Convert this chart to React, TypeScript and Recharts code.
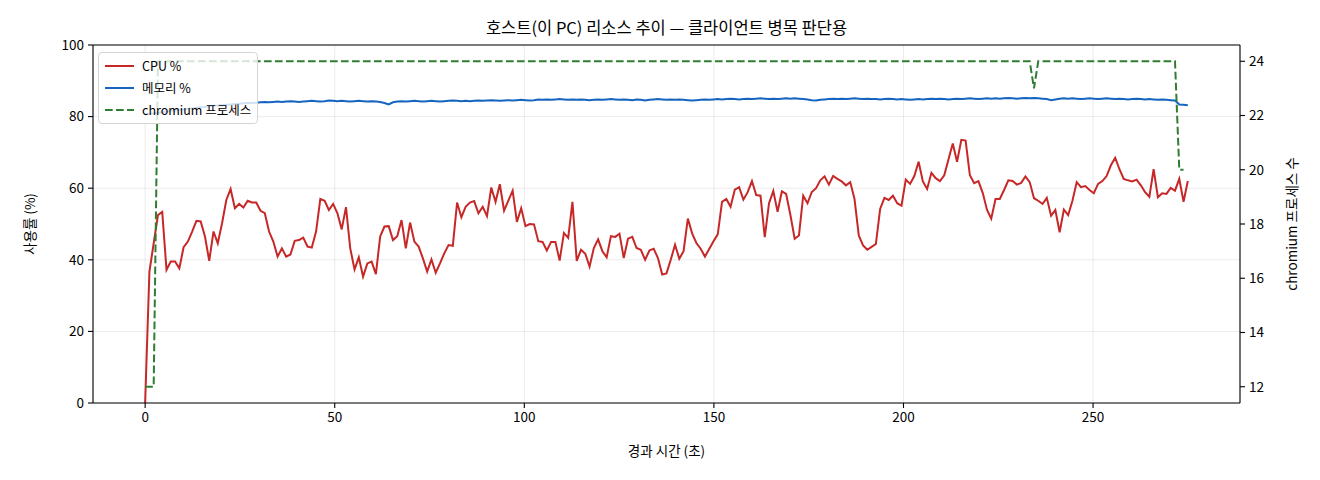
import { LineChart, Line, XAxis, YAxis, CartesianGrid, Legend, ReferenceLine } from 'recharts';

// sampling interval of the monitor (seconds between rows)
const SAMPLE_SEC = 1.127;

const CPU = [
  0, 36.7, 44.6, 52.5, 53.4, 37.2, 39.5, 39.5, 37.6, 43.5,
  45.1, 47.9, 50.9, 50.7, 46.5, 39.7, 47.9, 44.6, 50.2, 56.7,
  59.8, 54.4, 55.6, 54.6, 56.5, 56.0, 56.0, 53.7, 53.0, 47.9,
  45.1, 40.9, 43.2, 40.9, 41.5, 45.3, 45.5, 46.2, 43.7, 43.4,
  47.9, 57.0, 56.5, 53.9, 55.6, 53.0,
  48.5, 54.7, 43.2, 37.3, 40.7, 35.3, 39.0, 39.5, 36.0, 46.5,
  49.3, 49.4, 45.5, 46.6, 51.1, 43.2, 50.4, 45.1, 43.7, 40.4,
  36.7, 40.1, 36.4, 39.0, 41.8, 44.1, 43.9, 56.0, 51.9, 54.8,
  56.0, 56.4, 53.0, 54.8, 52.2, 60.2, 56.2, 61.1, 53.7, 56.5,
  59.3, 50.6, 54.4, 49.4, 50.0,
  49.9, 45.2, 45.0, 42.6, 45.0, 45.0, 39.8, 47.5, 46.1, 56.2,
  39.7, 42.8, 41.7, 38.1, 43.3, 45.7, 42.4, 40.7, 46.6, 46.4,
  47.3, 40.5, 45.9, 46.4, 43.3, 42.8, 40.0, 42.6, 43.1, 40.5,
  35.9, 36.2,
  40.0, 44.2, 40.3, 42.4, 51.5, 47.4, 44.7, 43.1, 40.9, 43.0,
  45.2, 47.1, 56.2, 57.0, 54.8, 59.6, 60.3, 56.8, 58.9, 62.0,
  58.1, 57.9, 46.3, 55.8, 59.2, 53.4, 59.1, 58.4, 52.5, 45.9,
  46.8,
  57.9, 55.8, 58.9, 60.0, 62.2, 63.3, 61.0, 63.4, 62.6, 61.9,
  60.8, 61.7, 57.0, 46.8, 44.0, 42.8, 43.6, 44.4, 54.2, 57.3,
  56.7, 57.9, 55.8, 55.1, 62.4, 61.2, 63.4, 67.4, 61.9, 59.8,
  64.3, 62.8,
  62.0, 63.6, 68.1, 72.5, 67.4, 73.5, 73.3, 63.6, 61.4, 62.0,
  58.7, 54.0, 51.5, 57.0, 57.0, 59.5, 62.2, 62.0, 61.0, 61.5,
  63.3, 61.7, 57.2, 56.5, 55.6, 57.3, 52.3, 53.9, 47.7, 54.0,
  52.5,
  56.5, 61.7, 60.3, 60.6, 59.5, 58.6, 61.2, 62.0, 63.4, 66.4,
  68.5, 65.3, 62.6, 62.2, 61.9, 62.4, 60.8, 58.9, 57.6, 65.3,
  57.5, 58.6, 58.4, 60.1, 59.3, 62.6, 56.2, 62.0,
];

const MEMORY = [
  80.6, 80.8, 80.9, 81.1, 81.2, 81.4, 81.6, 81.7, 81.9, 82.0,
  82.2, 82.3, 82.5, 82.6, 82.7, 82.9, 83.0, 83.1, 83.2, 83.3,
  83.4, 83.5, 83.6, 83.7, 83.8, 83.8, 83.9, 84.0,
  84.1, 84.0, 84.1, 84.2, 84.1, 84.2, 84.3, 84.2, 84.1, 84.2,
  84.3, 84.4, 84.3, 84.2, 84.3, 84.5, 84.4, 84.3, 84.4, 84.3,
  84.2, 84.3, 84.4, 84.3, 84.2, 84.3, 84.2, 84.1, 83.8,
  83.4,
  84.0, 84.2, 84.3, 84.2, 84.3, 84.4, 84.3, 84.2, 84.3, 84.4,
  84.3, 84.2, 84.3, 84.4, 84.5, 84.4, 84.3, 84.4, 84.3, 84.4,
  84.5, 84.4, 84.5, 84.6, 84.5, 84.4, 84.5, 84.6, 84.5, 84.6,
  84.7, 84.6, 84.5,
  84.6, 84.8, 84.7, 84.8, 84.7, 84.8, 84.9, 84.8, 84.7, 84.8,
  84.7, 84.8, 84.7, 84.6, 84.7, 84.8, 84.7, 84.8, 84.9, 84.8,
  84.7, 84.8, 84.7, 84.6, 84.8, 84.7, 84.5, 84.7, 84.8, 84.9,
  84.8, 84.7, 84.8, 84.7, 84.8, 84.7, 84.6, 84.5, 84.6, 84.7,
  84.8, 84.7, 84.8, 84.9, 84.8, 84.9, 85.0, 84.9, 84.8, 84.9,
  85.0, 84.9, 85.0, 85.1, 85.0, 84.9, 85.0, 84.9, 85.0, 85.1,
  85.0, 85.1, 85.0, 84.9, 84.8, 84.6, 84.5, 84.7, 84.8, 84.9,
  85.0, 84.9, 85.0, 84.9, 85.0, 85.1, 85.0, 84.9, 85.0, 84.9,
  84.9, 84.8, 84.9, 85.0, 84.9, 84.8, 84.9, 84.8, 84.7, 84.8,
  84.9, 84.8, 84.9, 85.0, 84.9, 85.0, 84.9, 84.8, 84.9, 85.0,
  84.9, 85.0, 85.1, 85.0, 84.9, 85.0, 85.1, 85.0, 85.1, 85.0,
  85.1, 85.2, 85.1, 85.0, 85.1, 85.2, 85.1, 85.2, 85.1, 85.0,
  84.9, 84.6, 84.8, 85.0, 85.1, 85.0, 85.1, 85.0, 84.9, 85.0,
  85.1, 85.0, 84.9, 85.0, 85.1, 85.0, 84.9, 85.0, 84.9, 84.8,
  84.9, 85.0, 84.9, 84.8, 84.9, 84.8, 84.7, 84.8, 84.7, 84.6,
  84.5,
  83.4, 83.3, 83.2,
];

const PROCS = [
  12, 12, 12,
  24, 24, 24, 24, 24, 24, 24, 24, 24, 24, 24, 24, 24, 24, 24, 24, 24, 24, 24, 24,
  24, 24, 24, 24, 24, 24, 24, 24, 24, 24, 24, 24, 24, 24, 24, 24, 24, 24, 24, 24,
  24, 24, 24, 24, 24, 24, 24, 24, 24, 24, 24, 24, 24, 24, 24, 24, 24, 24, 24, 24,
  24, 24, 24, 24, 24, 24, 24, 24, 24, 24, 24, 24, 24, 24, 24, 24, 24, 24, 24, 24,
  24, 24, 24, 24, 24, 24, 24, 24, 24, 24, 24, 24, 24, 24, 24, 24, 24, 24, 24, 24,
  24, 24, 24, 24, 24, 24, 24, 24, 24, 24, 24, 24, 24, 24, 24, 24, 24, 24, 24, 24,
  24, 24, 24, 24, 24, 24, 24, 24, 24, 24, 24, 24, 24, 24, 24, 24, 24, 24, 24, 24,
  24, 24, 24, 24, 24, 24, 24, 24, 24, 24, 24, 24, 24, 24, 24, 24, 24, 24, 24, 24,
  24, 24, 24, 24, 24, 24, 24, 24, 24, 24, 24, 24, 24, 24, 24, 24, 24, 24, 24, 24,
  24, 24, 24, 24, 24, 24, 24, 24, 24, 24, 24, 24, 24, 24, 24, 24, 24, 24, 24, 24,
  24, 24, 24, 24, 24,
  23,
  24, 24, 24, 24, 24, 24, 24, 24, 24, 24, 24, 24, 24, 24, 24, 24, 24, 24, 24, 24,
  24, 24, 24, 24, 24, 24, 24, 24, 24, 24, 24, 24, 24,
  20, 20,
  null,
];

const X_TICKS = [0, 50, 100, 150, 200, 250];
const PCT_TICKS = [0, 20, 40, 60, 80, 100];
const PROC_TICKS = [12, 14, 16, 18, 20, 22, 24];

const SERIES = [
  { key: 'cpu', name: 'CPU %', color: '#c62828', axis: 'left', dash: undefined },
  { key: 'mem', name: '메모리 %', color: '#1565c0', axis: 'left', dash: undefined },
  { key: 'procs', name: 'chromium 프로세스', color: '#2e7d32', axis: 'right', dash: '7.7 3.3' },
];

const FONT = '"Noto Sans CJK KR", "Noto Sans", sans-serif';

const data = CPU.map((cpu, i) => ({
  t: +(i * SAMPLE_SEC).toFixed(3),
  cpu,
  mem: MEMORY[i],
  procs: PROCS[i],
}));

const axisLine = { stroke: '#000', strokeWidth: 1.1 };
const tickStyle = { fill: '#000', fontSize: 13.5 };

function LegendBox() {
  return (
    <div
      style={{
        background: 'rgba(255,255,255,0.8)',
        border: '1px solid #d5d5d5',
        borderRadius: 4,
        padding: '2px 6px 2px 6px',
        fontSize: 12.5,
        lineHeight: '22px',
        color: '#000',
      }}
    >
      {SERIES.map((s) => (
        <div key={s.key} style={{ display: 'flex', alignItems: 'center' }}>
          <svg width={29} height={10}>
            <line x1={0} y1={5} x2={29} y2={5} stroke={s.color} strokeWidth={2} strokeDasharray={s.dash} />
          </svg>
          <span style={{ marginLeft: 8 }}>{s.name}</span>
        </div>
      ))}
    </div>
  );
}

export default function App() {
  return (
    <div style={{ position: 'absolute', left: 0, top: 0, width: 1320, height: 480, fontFamily: FONT, background: '#fff' }}>
      <div
        style={{
          position: 'absolute',
          left: 93,
          width: 1147,
          top: 16,
          lineHeight: '22px',
          fontSize: 16.5,
          textAlign: 'center',
          color: '#000',
        }}
      >
        호스트(이 PC) 리소스 추이 — 클라이언트 병목 판단용
      </div>
      <LineChart width={1320} height={480} data={data} margin={{ top: 45, right: 0, bottom: 0, left: 0 }}>
        <CartesianGrid yAxisId="left" stroke="#b0b0b0" strokeOpacity={0.3} strokeWidth={0.8} />
        <XAxis
          dataKey="t"
          type="number"
          domain={[-13.75, 288.75]}
          ticks={X_TICKS}
          height={77}
          axisLine={axisLine}
          tickLine={axisLine}
          tickSize={5}
          tickMargin={4}
          tick={tickStyle}
          label={{ value: '경과 시간 (초)', position: 'insideBottom', offset: 24, fill: '#000', fontSize: 13.5 }}
        />
        <YAxis
          yAxisId="left"
          domain={[0, 100]}
          ticks={PCT_TICKS}
          width={93}
          axisLine={axisLine}
          tickLine={axisLine}
          tickSize={5}
          tickMargin={4}
          tick={tickStyle}
          label={{ value: '사용률 (%)', angle: -90, position: 'insideLeft', offset: 30, fill: '#000', fontSize: 13.5, style: { textAnchor: 'middle' } }}
        />
        <YAxis
          yAxisId="right"
          orientation="right"
          domain={[11.4, 24.6]}
          ticks={PROC_TICKS}
          width={80}
          axisLine={axisLine}
          tickLine={axisLine}
          tickSize={5}
          tickMargin={4}
          tick={tickStyle}
          label={{ value: 'chromium 프로세스 수', angle: -90, position: 'insideRight', offset: 28, fill: '#000', fontSize: 13.5, style: { textAnchor: 'middle' } }}
        />
        <ReferenceLine yAxisId="left" y={100} stroke="#000" strokeWidth={1.1} />
        {SERIES.map((s) => (
          <Line
            key={s.key}
            yAxisId={s.axis}
            dataKey={s.key}
            name={s.name}
            type="linear"
            stroke={s.color}
            strokeWidth={2}
            strokeDasharray={s.dash}
            dot={false}
            activeDot={false}
            isAnimationActive={false}
          />
        ))}
        <Legend
          layout="vertical"
          align="center"
          verticalAlign="middle"
          wrapperStyle={{ left: 98, top: 52, width: 'auto', height: 'auto' }}
          content={() => <LegendBox />}
        />
      </LineChart>
    </div>
  );
}
